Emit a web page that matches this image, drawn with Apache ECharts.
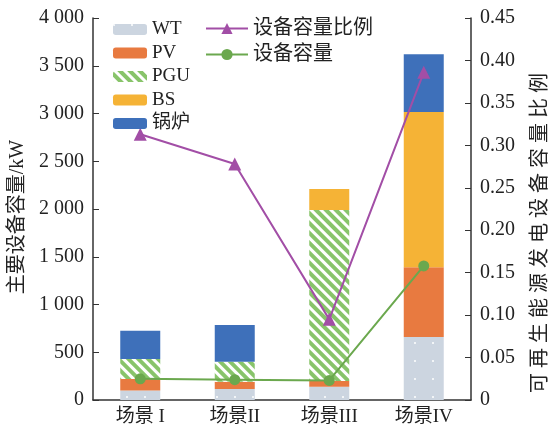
<!DOCTYPE html>
<html>
<head>
<meta charset="utf-8">
<script src="https://cdn.jsdelivr.net/npm/echarts@6/dist/echarts.min.js"></script>
<style>html,body{margin:0;padding:0;background:#fff}#main{width:550px;height:429px}</style>
</head>
<body>
<div id="main"></div>
<script>
var scenes = ['场景 I', '场景II', '场景III', '场景IV'];
var wt = [100, 115, 140, 660];
var pv = [120, 75, 60, 730];
var pgu = [210, 210, 1790, 0];
var bs = [0, 0, 220, 1625];
var boiler = [295, 385, 0, 605];
var ratio = [0.313, 0.278, 0.095, 0.386];
var capacity = [0.025, 0.024, 0.023, 0.158];

var serif = "'Liberation Serif', 'Noto Sans CJK SC', serif";
var axisCol = '#333';

function thou(v) {
    var s = String(v);
    return s.length > 3 ? s.slice(0, s.length - 3) + ' ' + s.slice(-3) : s;
}

var myChart = echarts.init(document.getElementById('main'));
var option = {
    animation: false,
    textStyle: {fontFamily: serif},
    grid: {left: 93, right: 79, top: 18, bottom: 29, outerBoundsMode: 'none'},
    legend: [{
        orient: 'vertical',
        left: 108, top: 15,
        itemWidth: 34, itemHeight: 11, itemGap: 4.5,
        textStyle: {fontSize: 19, lineHeight: 18, color: '#222', fontFamily: serif},
        data: ['WT', 'PV', 'PGU', 'BS', '锅炉']
    }, {
        orient: 'vertical',
        left: 200, top: 13,
        itemWidth: 42, itemHeight: 14, itemGap: 5,
        textStyle: {fontSize: 20, lineHeight: 21, color: '#222', fontFamily: serif},
        data: ['设备容量比例', '设备容量']
    }],
    xAxis: {
        type: 'category',
        data: scenes,
        axisLine: {lineStyle: {color: axisCol, width: 1.5}},
        axisTick: {inside: true, length: 5, lineStyle: {color: axisCol}},
        axisLabel: {fontSize: 19, color: '#222', margin: 8}
    },
    yAxis: [{
        type: 'value',
        min: 0, max: 4000, interval: 500,
        name: '主要设备容量/kW',
        nameLocation: 'middle', nameGap: 61, nameRotate: 90,
        nameTextStyle: {fontSize: 20, color: '#222', padding: [0, 16, 0, 0]},
        axisLine: {show: true, lineStyle: {color: axisCol, width: 1.5}},
        axisTick: {show: true, inside: true, length: 6, lineStyle: {color: axisCol}},
        axisLabel: {fontSize: 20, color: '#222', margin: 9, formatter: thou},
        splitLine: {show: false}
    }, {
        type: 'value',
        min: 0, max: 0.45, interval: 0.05,
        name: '可 再 生 能 源 发 电 设 备 容 量 比 例',
        nameLocation: 'middle', nameGap: 60, nameRotate: 90,
        nameTextStyle: {fontSize: 20, color: '#222', padding: [0, 48, 0, 0]},
        axisLine: {show: true, lineStyle: {color: axisCol, width: 1.5}},
        axisTick: {show: true, inside: true, length: 6, lineStyle: {color: axisCol}},
        axisLabel: {fontSize: 20, color: '#222', margin: 9, formatter: function (v) { return v === 0 ? '0' : v.toFixed(2); }},
        splitLine: {show: false}
    }],
    series: [
        {name: 'WT', type: 'bar', stack: 'cap', barWidth: 40, data: wt,
            itemStyle: {color: '#ccd5e0', decal: {symbol: 'circle', symbolSize: 1, dashArrayX: [2, 16], dashArrayY: [2, 16], color: '#ffffff'}}},
        {name: 'PV', type: 'bar', stack: 'cap', data: pv, itemStyle: {color: '#e87a40'}},
        {name: 'PGU', type: 'bar', stack: 'cap', data: pgu,
            itemStyle: {color: '#ffffff', decal: {symbol: 'rect', symbolSize: 1, dashArrayX: [1, 0], dashArrayY: [4, 3], rotation: Math.PI / 4, color: '#88c46a'}}},
        {name: 'BS', type: 'bar', stack: 'cap', data: bs, itemStyle: {color: '#f5b336'}},
        {name: '锅炉', type: 'bar', stack: 'cap', data: boiler, itemStyle: {color: '#3e70ba'}},
        {name: '设备容量比例', type: 'line', yAxisIndex: 1, data: ratio,
            symbol: 'triangle', symbolSize: 13,
            lineStyle: {color: '#a24ea6', width: 2}, itemStyle: {color: '#a24ea6'}},
        {name: '设备容量', type: 'line', yAxisIndex: 1, data: capacity,
            symbol: 'circle', symbolSize: 11,
            lineStyle: {color: '#6ba84e', width: 2}, itemStyle: {color: '#6ba84e'}}
    ]
};
myChart.setOption(option);
</script>
</body>
</html>
